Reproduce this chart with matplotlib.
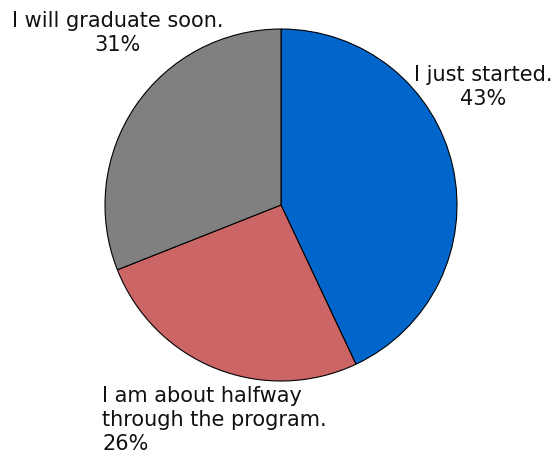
import matplotlib
matplotlib.use('Agg')
import matplotlib.pyplot as plt

# Datos del gráfico
etiquetas = ['I just started.', 'I am about halfway\nthrough the program.', 'I will graduate soon.']
valores = [43, 26, 31]
colores = ['#0066CC', '#CC6666', '#808080']

W, H = 555, 457
fig = plt.figure(figsize=(W / 100, H / 100), dpi=100)

# Centro y radio del pastel en píxeles
cx, cy, r = 281, 205, 176
ax = fig.add_axes([(cx - r) / W, (H - cy - r) / H, 2 * r / W, 2 * r / H])
ax.pie(valores, colors=colores, startangle=90, counterclock=False,
       radius=1, wedgeprops=dict(edgecolor='black', linewidth=0.8))
ax.set_xlim(-1, 1)
ax.set_ylim(-1, 1)
ax.set_aspect('equal')
ax.axis('off')

fs = 15
def px(x, y):
    return x / W, 1 - y / H

# Etiquetas con porcentaje
fig.text(*px(483, 87), f'{etiquetas[0]}\n{valores[0]}%', ha='center', va='center',
         fontsize=fs, color='#111111', linespacing=1.25)
fig.text(*px(118, 33), f'{etiquetas[2]}\n{valores[2]}%', ha='center', va='center',
         fontsize=fs, color='#111111', linespacing=1.25)
fig.text(*px(102, 420), f'{etiquetas[1]}\n{valores[1]}%', ha='left', va='center',
         fontsize=fs, color='#111111', linespacing=1.25)

plt.savefig('out.png', dpi=100)
